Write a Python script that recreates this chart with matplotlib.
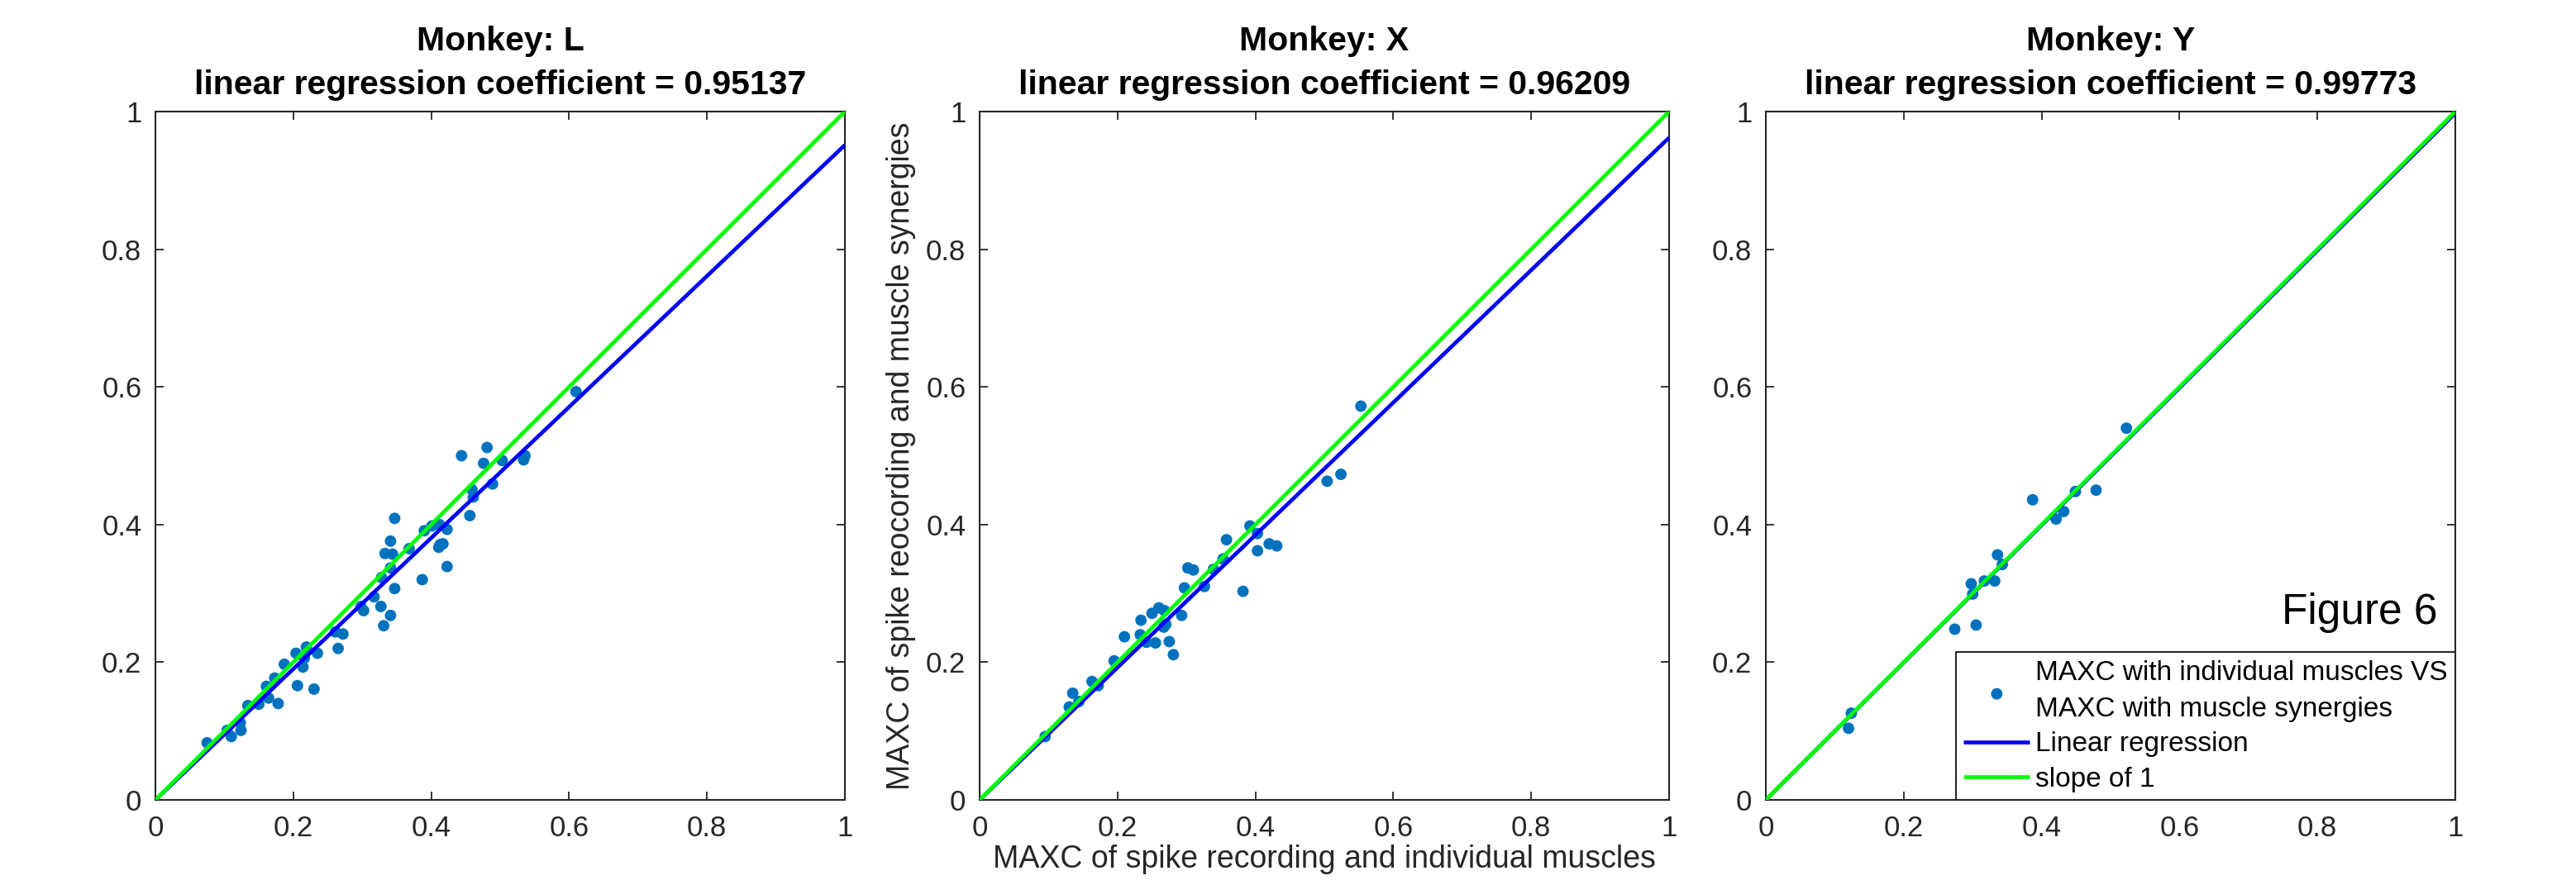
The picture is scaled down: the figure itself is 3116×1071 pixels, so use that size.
import numpy as np
import matplotlib
matplotlib.use("Agg")
import matplotlib.pyplot as plt
from matplotlib.ticker import FixedLocator, FixedFormatter

plt.rcParams['font.family'] = ['Liberation Sans', 'DejaVu Sans']

# ---------------- data ----------------
monkeys = ["L", "X", "Y"]
coefs = [0.95137, 0.96209, 0.99773]

L_x = [0.075, 0.104, 0.110, 0.124, 0.123, 0.134, 0.150, 0.161, 0.164, 0.173, 0.178, 0.187,
       0.204, 0.206, 0.214, 0.219, 0.216, 0.230, 0.235, 0.261, 0.272, 0.265, 0.298, 0.302,
       0.317, 0.327, 0.331, 0.341, 0.347, 0.328, 0.341, 0.333, 0.344, 0.341, 0.347, 0.368,
       0.387, 0.390, 0.401, 0.412, 0.423, 0.413, 0.417, 0.411, 0.423, 0.456, 0.461, 0.459,
       0.489, 0.476, 0.503, 0.534, 0.536, 0.444, 0.481, 0.610]
L_y = [0.083, 0.101, 0.092, 0.101, 0.112, 0.137, 0.139, 0.165, 0.148, 0.177, 0.140, 0.197,
       0.213, 0.166, 0.193, 0.222, 0.206, 0.161, 0.213, 0.244, 0.241, 0.220, 0.281, 0.275,
       0.295, 0.281, 0.253, 0.268, 0.307, 0.323, 0.337, 0.358, 0.357, 0.376, 0.409, 0.365,
       0.320, 0.391, 0.398, 0.400, 0.393, 0.371, 0.372, 0.367, 0.339, 0.413, 0.440, 0.451,
       0.459, 0.489, 0.493, 0.494, 0.500, 0.500, 0.512, 0.593]

X_x = [0.095, 0.130, 0.135, 0.144, 0.163, 0.172, 0.195, 0.210, 0.233, 0.234, 0.242, 0.250,
       0.255, 0.260, 0.268, 0.267, 0.270, 0.275, 0.281, 0.293, 0.297, 0.302, 0.310, 0.326,
       0.339, 0.353, 0.358, 0.382, 0.392, 0.403, 0.403, 0.420, 0.431, 0.504, 0.524, 0.553]
X_y = [0.092, 0.135, 0.155, 0.143, 0.172, 0.166, 0.202, 0.237, 0.240, 0.261, 0.229, 0.271,
       0.228, 0.279, 0.275, 0.251, 0.255, 0.230, 0.211, 0.268, 0.308, 0.337, 0.334, 0.310,
       0.335, 0.350, 0.378, 0.303, 0.398, 0.387, 0.362, 0.372, 0.369, 0.463, 0.473, 0.572]

Y_x = [0.124, 0.120, 0.274, 0.305, 0.300, 0.298, 0.317, 0.332, 0.343, 0.336, 0.387, 0.421,
       0.432, 0.449, 0.479, 0.523]
Y_y = [0.126, 0.104, 0.248, 0.254, 0.299, 0.314, 0.318, 0.318, 0.342, 0.356, 0.436, 0.408,
       0.419, 0.448, 0.450, 0.540]

tick_vals = [0, 0.2, 0.4, 0.6, 0.8, 1]
tick_labels = ["0", "0.2", "0.4", "0.6", "0.8", "1"]
line_x = [0, 1]

xlabel_text = "MAXC of spike recording and individual muscles"
ylabel_text = "MAXC of spike reocording and muscle synergies"
legend_labels = ["MAXC with individual muscles VS\nMAXC with muscle synergies",
                 "Linear regression", "slope of 1"]

# ---------------- figure ----------------
W, H = 3116, 1071
fig = plt.figure(figsize=(W / 100, H / 100), dpi=100)

axw = 834 / W
axh = 833 / H
bottom = 1 - 968 / H
lefts = [188 / W, 1185 / W, 2136 / W]

scatter_color = "#0072BD"
axis_color = "#262626"
datasets = [(L_x, L_y), (X_x, X_y), (Y_x, Y_y)]

axes = []
for i, (m, c, (dx, dy)) in enumerate(zip(monkeys, coefs, datasets)):
    ax = fig.add_axes([lefts[i], bottom, axw, axh])
    axes.append(ax)
    sc = ax.scatter(dx, dy, s=100, color=scatter_color, edgecolors='none', zorder=2,
                    label=legend_labels[0])
    lx = np.array(line_x, dtype=float)
    lr, = ax.plot(lx, c * lx, color=(0, 0, 1), lw=3.4, zorder=3, label=legend_labels[1],
                  solid_capstyle='butt')
    s1, = ax.plot(lx, lx, color=(0, 1, 0), lw=3.4, zorder=4, label=legend_labels[2],
                  solid_capstyle='butt')
    ax.set_xlim(0, 1)
    ax.set_ylim(0, 1)
    for axis in (ax.xaxis, ax.yaxis):
        axis.set_major_locator(FixedLocator(tick_vals))
        axis.set_major_formatter(FixedFormatter(tick_labels))
    ax.tick_params(direction='in', length=7.2, width=1.3, colors=axis_color,
                   labelsize=25, top=True, right=True, pad=13)
    ax.tick_params(axis='y', pad=12)
    for sp in ax.spines.values():
        sp.set_color(axis_color)
        sp.set_linewidth(1.5)
    ax.set_title(f"Monkey: {m}\nlinear regression coefficient = {c:.5f}",
                 fontsize=29.5, fontweight='bold', linespacing=1.5, pad=15, color='black')
    if i == 1:
        ax.set_xlabel(xlabel_text, fontsize=27, color=axis_color, labelpad=2)
        ax.set_ylabel(ylabel_text, fontsize=27, color=axis_color, labelpad=9)
    if i == 2:
        leg = ax.legend(handles=[sc, lr, s1], loc='lower right', bbox_to_anchor=(1, 0),
                        borderaxespad=0, fontsize=24, frameon=True, fancybox=False,
                        framealpha=1, edgecolor=axis_color, labelspacing=0.34,
                        handlelength=2.4, handletextpad=0.2, borderpad=0.28,
                        scatterpoints=1)
        leg.get_frame().set_linewidth(1.5)
        leg.get_texts()[0].set_linespacing(1.55)
        ax.text(0.748, 0.256, "Figure 6", transform=ax.transAxes, fontsize=37,
                ha='left', va='baseline', color='black')

fig.savefig("out.png", dpi=100, facecolor='white')
